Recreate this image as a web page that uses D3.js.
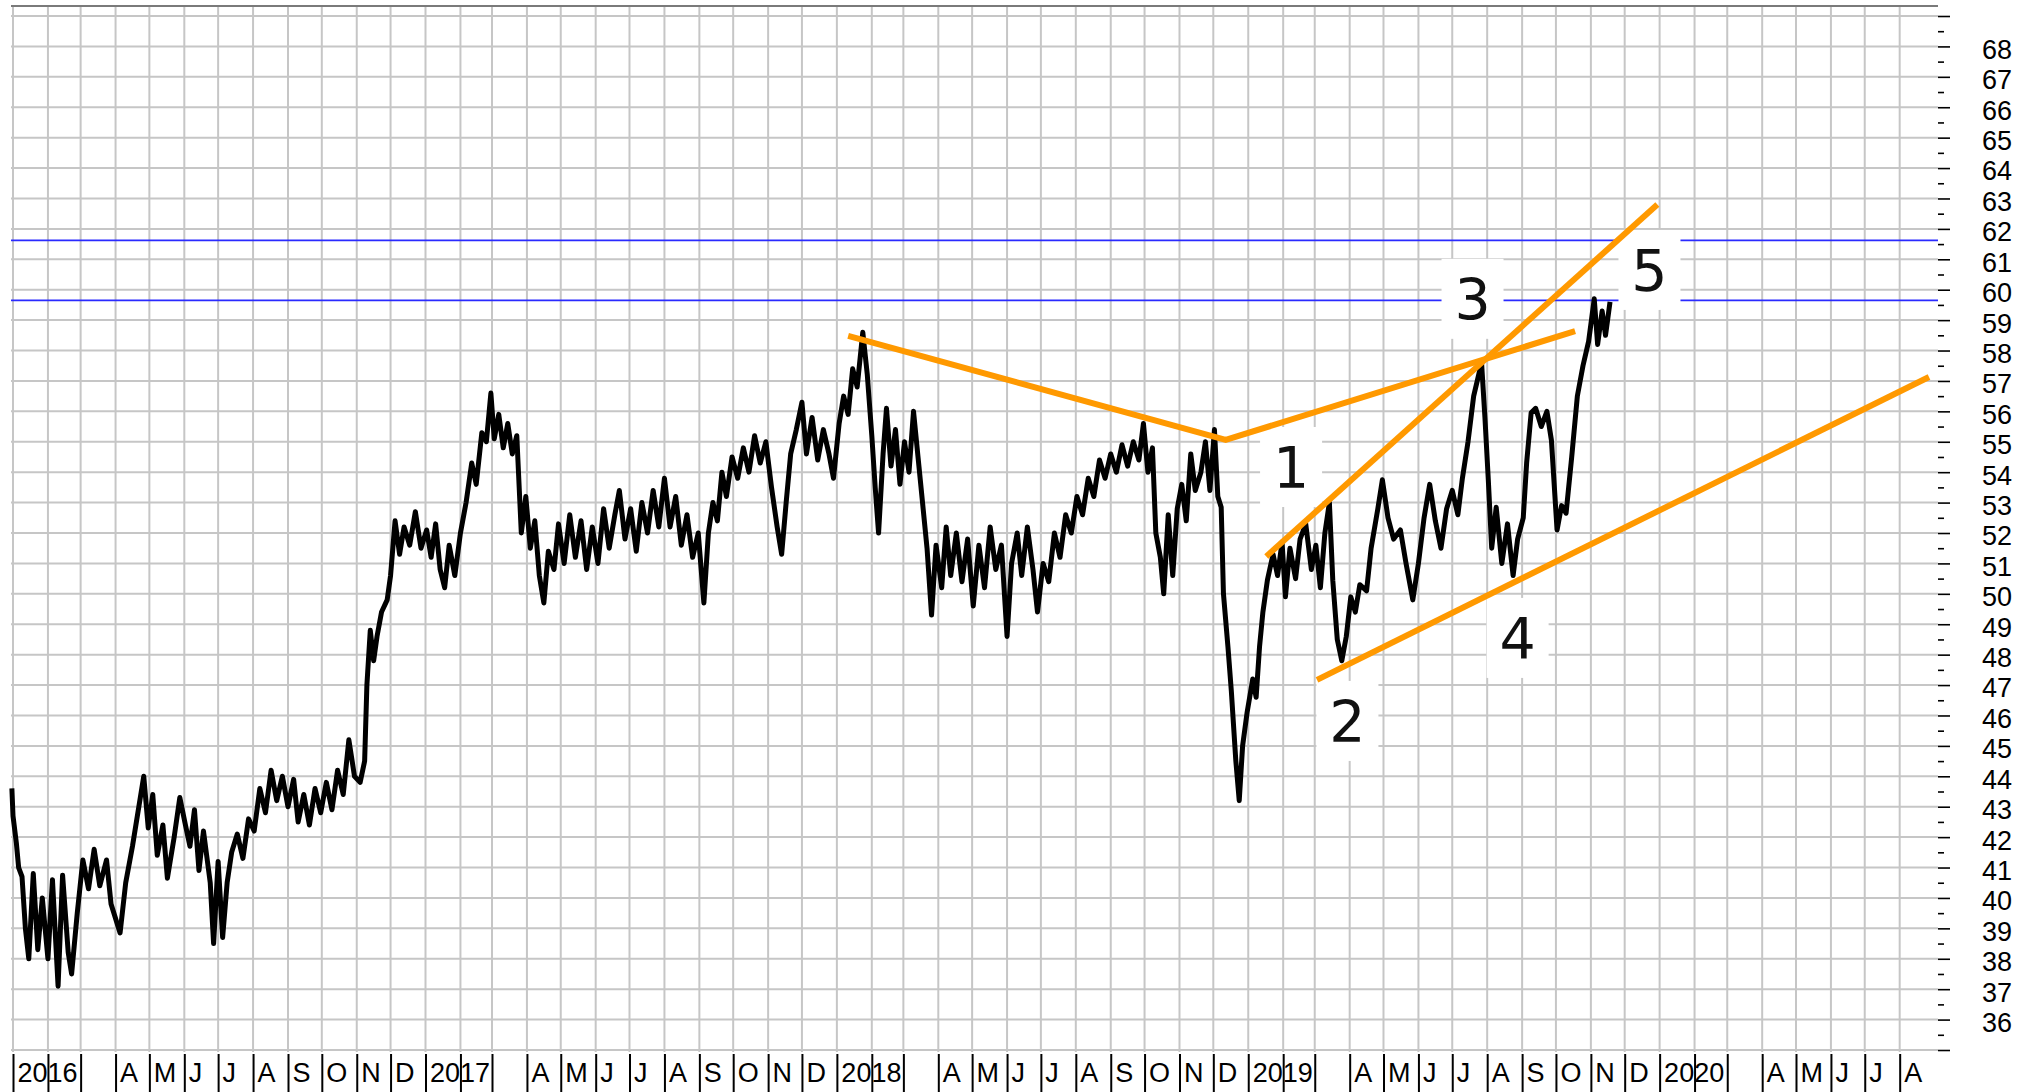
<!DOCTYPE html>
<html>
<head>
<meta charset="utf-8">
<script src="https://cdn.jsdelivr.net/npm/d3@7"></script>
<style>
  body { margin: 0; background: #fff; }
  svg { display: block; }
</style>
</head>
<body>
<svg id="chart" width="2035" height="1092"></svg>
<script>
// price trace (date, price)
const priceTrace = [
  ["2015-12-31",43.6],["2016-01-01",42.7],["2016-01-04",41.8],["2016-01-06",41.0],["2016-01-09",40.7],["2016-01-12",39.0],
  ["2016-01-15",38.0],["2016-01-19",40.8],["2016-01-23",38.3],["2016-01-27",40.0],["2016-02-01",38.0],["2016-02-05",40.6],
  ["2016-02-10",37.1],["2016-02-14",40.75],["2016-02-19",38.2],["2016-02-22",37.5],["2016-02-27",39.5],["2016-03-03",41.25],
  ["2016-03-08",40.3],["2016-03-13",41.6],["2016-03-18",40.4],["2016-03-24",41.25],["2016-03-28",39.8],["2016-04-05",38.85],
  ["2016-04-10",40.5],["2016-04-16",41.7],["2016-04-26",44.0],["2016-04-30",42.3],["2016-05-04",43.4],["2016-05-08",41.4],
  ["2016-05-13",42.4],["2016-05-17",40.65],["2016-05-23",42.0],["2016-05-28",43.3],["2016-06-02",42.4],["2016-06-06",41.7],
  ["2016-06-10",42.9],["2016-06-14",40.9],["2016-06-18",42.2],["2016-06-24",40.5],["2016-06-27",38.5],["2016-07-01",41.2],
  ["2016-07-05",38.7],["2016-07-09",40.5],["2016-07-13",41.5],["2016-07-18",42.1],["2016-07-23",41.3],["2016-07-28",42.6],
  ["2016-08-02",42.2],["2016-08-07",43.6],["2016-08-12",42.8],["2016-08-17",44.2],["2016-08-22",43.2],["2016-08-27",44.0],
  ["2016-09-01",43.0],["2016-09-06",43.9],["2016-09-10",42.5],["2016-09-15",43.4],["2016-09-20",42.4],["2016-09-25",43.6],
  ["2016-09-30",42.8],["2016-10-05",43.8],["2016-10-10",42.9],["2016-10-15",44.2],["2016-10-20",43.4],["2016-10-25",45.2],
  ["2016-10-30",44.0],["2016-11-04",43.8],["2016-11-08",44.5],["2016-11-10",47.0],["2016-11-13",48.8],["2016-11-16",47.8],
  ["2016-11-19",48.6],["2016-11-23",49.4],["2016-11-28",49.8],["2016-12-01",50.6],["2016-12-05",52.4],["2016-12-09",51.3],
  ["2016-12-13",52.2],["2016-12-18",51.6],["2016-12-23",52.7],["2016-12-28",51.5],
  ["2017-01-02",52.1],["2017-01-06",51.2],["2017-01-10",52.3],["2017-01-14",50.8],["2017-01-18",50.2],["2017-01-22",51.6],
  ["2017-01-27",50.6],["2017-02-01",52.0],["2017-02-06",53.0],["2017-02-11",54.3],["2017-02-15",53.6],["2017-02-20",55.3],
  ["2017-02-24",55.0],["2017-02-28",56.6],["2017-03-03",55.1],["2017-03-07",55.9],["2017-03-11",54.8],["2017-03-15",55.6],
  ["2017-03-19",54.6],["2017-03-23",55.2],["2017-03-27",52.0],["2017-03-31",53.2],["2017-04-04",51.5],["2017-04-08",52.4],
  ["2017-04-12",50.6],["2017-04-16",49.7],["2017-04-20",51.4],["2017-04-25",50.8],["2017-04-29",52.3],["2017-05-04",51.0],
  ["2017-05-09",52.6],["2017-05-14",51.2],["2017-05-19",52.4],["2017-05-24",50.8],["2017-05-29",52.2],["2017-06-03",51.0],
  ["2017-06-08",52.8],["2017-06-13",51.5],["2017-06-18",52.6],["2017-06-22",53.4],["2017-06-27",51.8],["2017-07-02",52.8],
  ["2017-07-07",51.4],["2017-07-12",53.0],["2017-07-17",52.0],["2017-07-22",53.4],["2017-07-27",52.2],["2017-08-01",53.8],
  ["2017-08-06",52.2],["2017-08-11",53.2],["2017-08-16",51.6],["2017-08-21",52.6],["2017-08-26",51.2],["2017-08-31",52.0],
  ["2017-09-05",49.7],["2017-09-09",52.0],["2017-09-13",53.0],["2017-09-17",52.4],["2017-09-21",54.0],["2017-09-25",53.2],
  ["2017-09-30",54.5],["2017-10-05",53.8],["2017-10-10",54.8],["2017-10-15",54.0],["2017-10-20",55.2],["2017-10-25",54.3],
  ["2017-10-30",55.0],["2017-11-04",53.5],["2017-11-09",52.2],["2017-11-13",51.3],["2017-11-17",53.0],["2017-11-21",54.6],
  ["2017-11-26",55.4],["2017-12-01",56.3],["2017-12-05",54.6],["2017-12-10",55.8],["2017-12-15",54.4],["2017-12-20",55.4],
  ["2017-12-25",54.6],["2017-12-29",53.8],
  ["2018-01-03",55.6],["2018-01-07",56.5],["2018-01-11",55.9],["2018-01-15",57.4],["2018-01-19",56.8],["2018-01-24",58.6],
  ["2018-01-28",57.2],["2018-02-01",55.2],["2018-02-04",53.5],["2018-02-07",52.0],["2018-02-11",54.6],["2018-02-14",56.1],
  ["2018-02-18",54.2],["2018-02-22",55.4],["2018-02-26",53.6],["2018-03-02",55.0],["2018-03-06",54.0],["2018-03-10",56.0],
  ["2018-03-14",54.5],["2018-03-18",53.0],["2018-03-22",51.5],["2018-03-26",49.3],["2018-03-30",51.6],["2018-04-04",50.2],
  ["2018-04-08",52.2],["2018-04-12",50.6],["2018-04-17",52.0],["2018-04-22",50.4],["2018-04-27",51.8],["2018-05-02",49.6],
  ["2018-05-07",51.6],["2018-05-12",50.2],["2018-05-17",52.2],["2018-05-22",50.8],["2018-05-27",51.6],["2018-06-01",48.6],
  ["2018-06-05",51.0],["2018-06-10",52.0],["2018-06-14",50.6],["2018-06-19",52.2],["2018-06-24",50.8],["2018-06-28",49.4],
  ["2018-07-03",51.0],["2018-07-08",50.4],["2018-07-13",52.0],["2018-07-18",51.2],["2018-07-23",52.6],["2018-07-28",52.0],
  ["2018-08-02",53.2],["2018-08-07",52.6],["2018-08-12",53.8],["2018-08-17",53.2],["2018-08-22",54.4],["2018-08-27",53.8],
  ["2018-09-01",54.6],["2018-09-06",54.0],["2018-09-11",54.9],["2018-09-16",54.2],["2018-09-21",55.0],["2018-09-26",54.4],
  ["2018-09-30",55.6],["2018-10-04",54.0],["2018-10-08",54.8],["2018-10-11",52.0],["2018-10-15",51.2],["2018-10-18",50.0],
  ["2018-10-22",52.6],["2018-10-26",50.6],["2018-10-30",52.8],["2018-11-03",53.6],["2018-11-07",52.4],["2018-11-11",54.6],
  ["2018-11-15",53.4],["2018-11-20",54.0],["2018-11-24",55.0],["2018-11-28",53.4],["2018-12-02",55.4],["2018-12-05",53.2],
  ["2018-12-08",52.85],["2018-12-10",50.0],["2018-12-14",48.25],["2018-12-17",46.8],["2018-12-21",44.5],["2018-12-24",43.2],
  ["2018-12-27",45.0],["2018-12-31",46.1],
  ["2019-01-05",47.2],["2019-01-08",46.6],["2019-01-11",48.25],["2019-01-14",49.4],["2019-01-18",50.45],["2019-01-23",51.3],
  ["2019-01-27",50.6],["2019-01-31",51.7],["2019-02-03",49.9],["2019-02-07",51.5],["2019-02-12",50.5],["2019-02-16",51.8],
  ["2019-02-21",52.3],["2019-02-26",50.8],["2019-03-02",51.6],["2019-03-06",50.2],["2019-03-10",52.0],["2019-03-14",53.0],
  ["2019-03-17",50.45],["2019-03-21",48.5],["2019-03-25",47.8],["2019-03-29",48.6],["2019-04-02",49.9],["2019-04-06",49.4],
  ["2019-04-10",50.3],["2019-04-16",50.1],["2019-04-20",51.5],["2019-04-26",52.8],["2019-04-30",53.75],["2019-05-05",52.5],
  ["2019-05-10",51.8],["2019-05-16",52.1],["2019-05-21",51.0],["2019-05-27",49.8],["2019-06-01",51.0],["2019-06-06",52.5],
  ["2019-06-11",53.6],["2019-06-16",52.4],["2019-06-21",51.5],["2019-06-26",52.8],["2019-07-01",53.4],["2019-07-06",52.6],
  ["2019-07-10",53.8],["2019-07-15",55.0],["2019-07-20",56.5],["2019-07-27",57.6],["2019-07-30",55.8],["2019-08-02",53.75],
  ["2019-08-05",51.5],["2019-08-09",52.85],["2019-08-14",51.0],["2019-08-19",52.3],["2019-08-24",50.6],["2019-08-28",51.8],
  ["2019-09-02",52.5],["2019-09-05",54.3],["2019-09-09",55.95],["2019-09-13",56.1],["2019-09-18",55.5],["2019-09-23",56.0],
  ["2019-09-27",55.05],["2019-10-02",52.1],["2019-10-06",52.9],["2019-10-10",52.65],["2019-10-15",54.5],["2019-10-20",56.5],
  ["2019-10-25",57.5],["2019-10-30",58.3],["2019-11-04",59.7],["2019-11-07",58.2],["2019-11-11",59.3],["2019-11-14",58.5],
  ["2019-11-18",59.6]
];

// horizontal resistance levels (blue)
const levels = [61.62, 59.65];

// orange trend lines, each a list of [date, price]
const trendLines = [
  [["2018-01-11", 58.48], ["2018-12-12", 55.06], ["2019-10-18", 58.64]],
  [["2019-01-17", 51.23], ["2019-12-30", 62.8]],
  [["2019-03-03", 47.17], ["2020-08-27", 57.13]]
];

// wave count labels
const waveLabels = ["1", "2", "3", "4", "5"];
const waveDates  = ["2019-02-08", "2019-03-30", "2019-07-19", "2019-08-28", "2019-12-23"];
const waveValues = [54.17, 45.82, 59.70, 48.55, 60.65];

// axis labels
const yLabelValues = d3.range(36, 69);
const monthLetters = ["", "", "", "A", "M", "J", "J", "A", "S", "O", "N", "D"];

const parse = d3.timeParse("%Y-%m-%d");
const svg = d3.select("#chart");

const plotLeft = 11, plotRight = 1938, plotTop = 6, plotBottom = 1052;

const x = d3.scaleTime()
  .domain([parse("2016-01-01"), parse("2020-09-04")])
  .range([13, 1938]);
const y = d3.scaleLinear().domain([35, 69]).range([1050, 16]);

svg.append("rect").attr("width", 2035).attr("height", 1092).attr("fill", "#fff");

// grid, one vertical line per month, one horizontal per unit
const months = d3.timeMonth.range(parse("2016-01-01"), parse("2020-09-01"));
const grid = svg.append("g").attr("stroke", "#c6c6c6").attr("stroke-width", 2);
grid.selectAll(".v").data(months).join("line").attr("class", "v")
  .attr("x1", d => x(d)).attr("x2", d => x(d))
  .attr("y1", plotTop).attr("y2", plotBottom);
grid.selectAll(".h").data(d3.range(35, 70)).join("line").attr("class", "h")
  .attr("x1", plotLeft).attr("x2", plotRight)
  .attr("y1", d => y(d)).attr("y2", d => y(d));

svg.append("line")
  .attr("x1", plotLeft).attr("x2", plotRight).attr("y1", plotTop).attr("y2", plotTop)
  .attr("stroke", "#7a7a7a").attr("stroke-width", 2);

// blue levels
svg.append("g").selectAll("line").data(levels).join("line")
  .attr("x1", plotLeft).attr("x2", plotRight)
  .attr("y1", d => y(d)).attr("y2", d => y(d))
  .attr("stroke", "#2a2aff").attr("stroke-width", 1.8);

// white boxes behind wave labels
const labelG = svg.append("g");
labelG.selectAll("rect").data(waveLabels).join("rect")
  .attr("x", (d, i) => x(parse(waveDates[i])) - 31)
  .attr("y", (d, i) => y(waveValues[i]) - 40)
  .attr("width", 62).attr("height", 80)
  .attr("fill", "#fff");

// price
const line = d3.line().x(d => x(parse(d[0]))).y(d => y(d[1]));
svg.append("path")
  .attr("d", line(priceTrace))
  .attr("fill", "none")
  .attr("stroke", "#000")
  .attr("stroke-width", 5)
  .attr("stroke-linejoin", "round");

// trend lines
svg.append("g").selectAll("path").data(trendLines).join("path")
  .attr("d", d => line(d))
  .attr("fill", "none")
  .attr("stroke", "#ff9900")
  .attr("stroke-width", 6);

labelG.selectAll("text").data(waveLabels).join("text")
  .attr("x", (d, i) => x(parse(waveDates[i])))
  .attr("y", (d, i) => y(waveValues[i]) + 21)
  .attr("text-anchor", "middle")
  .attr("font-family", "DejaVu Sans")
  .attr("font-size", 57)
  .attr("fill", "#111")
  .text(d => d);

// right axis: major and half ticks
const yMajor = d3.axisRight(y).tickValues(d3.range(35, 70)).tickSize(12).tickPadding(32)
  .tickFormat(d => yLabelValues.includes(d) ? d : "");
const yMinor = d3.axisRight(y).tickValues(d3.range(35.5, 69, 1)).tickSize(6).tickFormat("");

const gy = svg.append("g").attr("transform", `translate(${plotRight},0)`).call(yMajor);
svg.append("g").attr("transform", `translate(${plotRight},0)`).call(yMinor)
  .call(g => g.select(".domain").remove())
  .selectAll("line").attr("stroke", "#000").attr("stroke-width", 1.6);
gy.select(".domain").remove();
gy.selectAll("line").attr("stroke", "#000").attr("stroke-width", 1.6);
gy.selectAll("text")
  .attr("font-family", "Liberation Sans, Arial, sans-serif")
  .attr("font-size", 27)
  .attr("fill", "#000")
  .attr("dy", "0.44em");

// bottom axis: month separators with labels
const xAxis = d3.axisBottom(x).tickValues(months).tickSize(38)
  .tickFormat(d => d.getMonth() === 0 ? d.getFullYear() : monthLetters[d.getMonth()]);
const gx = svg.append("g").attr("transform", "translate(0,1054)").call(xAxis);
gx.select(".domain").remove();
gx.selectAll("line").attr("stroke", "#000").attr("stroke-width", 2);
gx.selectAll("text")
  .attr("x", 4).attr("y", 28).attr("dy", 0)
  .attr("text-anchor", "start")
  .attr("font-family", "Liberation Sans, Arial, sans-serif")
  .attr("font-size", 27)
  .attr("fill", "#000");
</script>
</body>
</html>
